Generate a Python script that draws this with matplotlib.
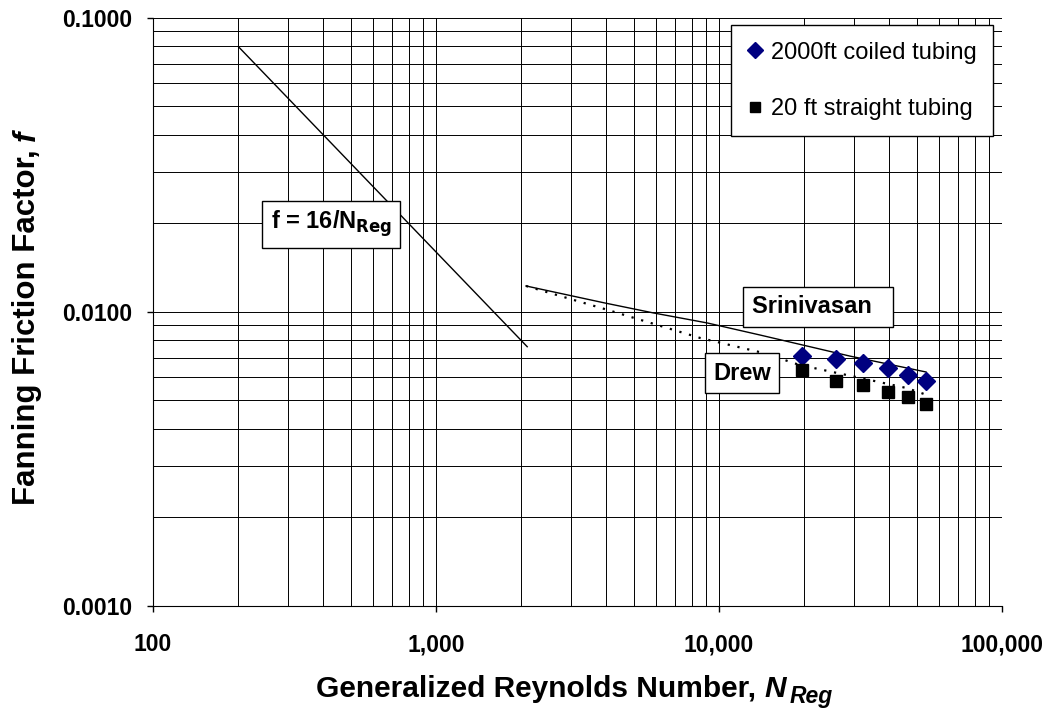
import numpy as np
import matplotlib.pyplot as plt
from matplotlib.ticker import FixedLocator, LogLocator, NullFormatter

plt.rcParams['font.family'] = ['Liberation Sans', 'DejaVu Sans']

# measured data
re_coiled = [19600, 25900, 32300, 39500, 46500, 53900]
f_coiled = [0.00708, 0.00692, 0.00671, 0.00645, 0.00611, 0.00583]

re_straight = [19600, 25900, 32300, 39500, 46500, 53900]
f_straight = [0.00635, 0.00583, 0.00565, 0.00535, 0.00514, 0.00486]

# laminar line f = 16/N
re_lam = [200, 2100]
f_lam = [16 / 200, 16 / 2100]

# correlations
re_srini = [2080, 3950, 5850, 9070, 13960, 29000, 53900]
f_srini = [0.01226, 0.01073, 0.00993, 0.00918, 0.00835, 0.00708, 0.00625]

re_drew = [2080, 3950, 8570, 14300, 19300, 31500, 46100, 54300]
f_drew = [0.01226, 0.01023, 0.00816, 0.00726, 0.00660, 0.00597, 0.00551, 0.00522]

xticks = [100, 1000, 10000, 100000]
xticklabels = ['100', '1,000', '10,000', '100,000']
yticks = [0.001, 0.01, 0.1]
yticklabels = ['0.0010', '0.0100', '0.1000']

fig = plt.figure(figsize=(10.51, 7.11), dpi=100)
ax = fig.add_axes([0.1456, 0.1477, 0.8078, 0.827])

ax.plot(re_lam, f_lam, color='black', lw=1)
ax.plot(re_srini, f_srini, color='black', lw=1)
ax.plot(re_drew, f_drew, color='black', lw=1.6, ls=(0, (1, 3.5)))
ax.plot(re_coiled, f_coiled, 'D', color='#000080', ms=9, label='2000ft coiled tubing')
ax.plot(re_straight, f_straight, 's', color='black', ms=8, label='20 ft straight tubing')

ax.set_xscale('log')
ax.set_yscale('log')
ax.set_xlim(100, 100000)
ax.set_ylim(0.001, 0.1)

ax.xaxis.set_major_locator(FixedLocator(xticks))
ax.set_xticklabels(xticklabels)
ax.yaxis.set_major_locator(FixedLocator(yticks))
ax.set_yticklabels(yticklabels)
ax.xaxis.set_minor_locator(LogLocator(base=10, subs=np.arange(2, 10)))
ax.yaxis.set_minor_locator(LogLocator(base=10, subs=np.arange(2, 10)))
ax.xaxis.set_minor_formatter(NullFormatter())
ax.yaxis.set_minor_formatter(NullFormatter())
ax.tick_params(which='minor', length=0)
ax.tick_params(which='major', length=4.5, width=1, labelsize=16.5)
ax.tick_params(axis='x', pad=15)
ax.tick_params(axis='y', pad=10.5)
for lab in ax.get_xticklabels() + ax.get_yticklabels():
    lab.set_fontweight('bold')

ax.grid(which='both', color='black', lw=0.7)
ax.set_axisbelow(True)
for s in ['top', 'right']:
    ax.spines[s].set_visible(False)

# x axis title: plain part, then italic N with italic subscript
inv = fig.transFigure.inverted()
t1 = fig.text(316 / 1051, 1 - 697 / 711, 'Generalized Reynolds Number, ', fontsize=21.5,
              fontweight='bold', ha='left', va='baseline')
fig.canvas.draw()
x1 = inv.transform((t1.get_window_extent().x1, 0))[0]
t2 = fig.text(x1, 1 - 697 / 711, 'N', fontsize=21.5, fontweight='bold', style='italic',
              va='baseline')
fig.canvas.draw()
x2 = inv.transform((t2.get_window_extent().x1 + 4, 0))[0]
fig.text(x2, 1 - 703 / 711, 'Reg', fontsize=16.5, fontweight='bold', style='italic',
         va='baseline')

# y axis title
t3 = fig.text(0.026, 1 - 505 / 711, 'Fanning Friction Factor, ', fontsize=22.5,
              fontweight='bold', rotation=90, ha='left', va='center',
              rotation_mode='anchor')
fig.canvas.draw()
y3 = inv.transform((0, t3.get_window_extent().y1))[1]
fig.text(0.026, y3, 'f', fontsize=22.5, fontweight='bold', style='italic',
         rotation=90, ha='left', va='center', rotation_mode='anchor')

box = dict(boxstyle='square,pad=0.35', fc='white', ec='black', lw=1)
ax.text(426, 0.0199, r'f = 16/N$_{\mathbf{Reg}}$', fontsize=17, fontweight='bold',
        ha='center', va='center', bbox=box)
ax.text(22400, 0.0104, 'Srinivasan  ', fontsize=17, fontweight='bold',
        ha='center', va='center', bbox=box)
ax.text(12050, 0.0062, 'Drew', fontsize=17, fontweight='bold',
        ha='center', va='center', bbox=box)

leg = ax.legend(loc='upper right', bbox_to_anchor=(0.9894, 0.988), fontsize=17,
                frameon=True, fancybox=False, edgecolor='black', handlelength=0.7,
                handletextpad=0.3, labelspacing=1.45, borderpad=0.7, borderaxespad=0,
                markerscale=0.9, framealpha=1)
leg.get_frame().set_linewidth(1)

fig.savefig('out.png', dpi=100)
